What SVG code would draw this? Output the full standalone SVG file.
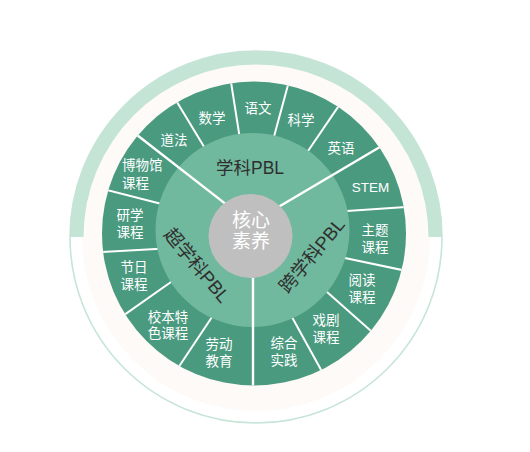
<svg xmlns="http://www.w3.org/2000/svg" width="530" height="452" viewBox="0 0 530 452">
<defs>
<style>
.seg{fill:#ffffff;font-family:"Liberation Sans","Noto Sans CJK SC",sans-serif;font-size:13.5px;text-anchor:middle}
.mid{fill:#2f2f2f;font-family:"Liberation Sans","Noto Sans CJK SC",sans-serif;font-size:17.5px;text-anchor:middle}
.rot{font-size:18.5px}
.core{fill:#ffffff;font-family:"Liberation Sans","Noto Sans CJK SC",sans-serif;font-size:19px;text-anchor:middle}
.sp{stroke:#ffffff;stroke-width:2;fill:none}
.main{stroke:#ffffff;stroke-width:2.4;fill:none}
</style>
<clipPath id="dk"><circle cx="254" cy="233.5" r="152"/></clipPath>
</defs>
<rect width="530" height="452" fill="#ffffff"/>
<g id="outer-ring">
<circle cx="256" cy="237" r="174" fill="#fefaf7"/>
<circle cx="256" cy="237" r="186" fill="none" stroke="#c6e5d7" stroke-width="1.6"/>
<path d="M70,237 A186,186 0 0 1 442,237 L428.5,237 A172.5,172.5 0 0 0 83.5,237 Z" fill="#c4e4d5"/>
</g>
<g id="disc">
<circle cx="254" cy="233.5" r="152" fill="#4a9a7f"/>
</g>
<g id="connectors" clip-path="url(#dk)">
<line class="sp" x1="174.4" y1="97.7" x2="206.9" y2="151.5"/>
<line class="sp" x1="230.2" y1="76.9" x2="240.2" y2="140.6"/>
<line class="sp" x1="289.3" y1="80.2" x2="273" y2="140.2"/>
<line class="sp" x1="340.8" y1="102.9" x2="305.8" y2="154.2"/>
<line class="sp" x1="101.9" y1="188.7" x2="165.6" y2="205"/>
<line class="sp" x1="97.6" y1="252.3" x2="165.1" y2="248.5"/>
<line class="sp" x1="122.9" y1="315.9" x2="174.2" y2="279.7"/>
<line class="sp" x1="177" y1="369.5" x2="214.5" y2="313.3"/>
<line class="sp" x1="410.7" y1="206.6" x2="339.5" y2="211.6"/>
<line class="sp" x1="407.7" y1="271.2" x2="336.5" y2="256.2"/>
<line class="sp" x1="374.4" y1="333.9" x2="319.4" y2="285.2"/>
<line class="sp" x1="322.8" y1="373.1" x2="287.8" y2="309.4"/>
</g>
<g id="mid-ring">
<circle cx="252.5" cy="230" r="97" fill="#71b99e"/>
</g>
<g id="main-dividers" clip-path="url(#dk)">
<line class="main" x1="132.5" y1="131.5" x2="230" y2="207.4"/>
<line class="main" x1="385" y1="144" x2="275" y2="209"/>
<line class="main" x1="253" y1="240" x2="253" y2="392"/>
</g>
<g id="core">
<circle cx="250.5" cy="236" r="42" fill="#bfbfbf"/>
<text class="core" x="251" y="227">核心</text>
<text class="core" x="251" y="248">素养</text>
</g>
<g id="xueke-pbl"><text class="mid" x="250" y="173.5">学科PBL</text></g>
<g id="chao-xueke-pbl"><text class="mid rot" transform="translate(197.5,265) rotate(50)" x="0" y="7">超学科PBL</text></g>
<g id="kua-xueke-pbl"><text class="mid rot" transform="translate(311.5,255) rotate(-50)" x="0" y="7">跨学科PBL</text></g>
<g id="daofa"><text class="seg" x="174" y="145">道法</text></g>
<g id="shuxue"><text class="seg" x="212" y="122.5">数学</text></g>
<g id="yuwen"><text class="seg" x="258" y="113">语文</text></g>
<g id="kexue"><text class="seg" x="301" y="124.5">科学</text></g>
<g id="yingyu"><text class="seg" x="341" y="152.5">英语</text></g>
<g id="stem"><text class="seg" x="370.5" y="191.5">STEM</text></g>
<g id="zhuti"><text class="seg" x="375" y="235">主题</text><text class="seg" x="375" y="252">课程</text></g>
<g id="yuedu"><text class="seg" x="362" y="285">阅读</text><text class="seg" x="362" y="301.5">课程</text></g>
<g id="xiju"><text class="seg" x="326" y="325">戏剧</text><text class="seg" x="326" y="342">课程</text></g>
<g id="zonghe"><text class="seg" x="284" y="348">综合</text><text class="seg" x="284" y="365">实践</text></g>
<g id="laodong"><text class="seg" x="219" y="349">劳动</text><text class="seg" x="219" y="366">教育</text></g>
<g id="xiaoben"><text class="seg" x="168" y="322">校本特</text><text class="seg" x="168" y="338">色课程</text></g>
<g id="jieri"><text class="seg" x="134" y="272">节日</text><text class="seg" x="134" y="288.5">课程</text></g>
<g id="yanxue"><text class="seg" x="130" y="220">研学</text><text class="seg" x="130" y="237">课程</text></g>
<g id="bowuguan"><text class="seg" x="122" y="170" style="text-anchor:start">博物馆</text><text class="seg" x="122" y="188" style="text-anchor:start">课程</text></g>
</svg>
